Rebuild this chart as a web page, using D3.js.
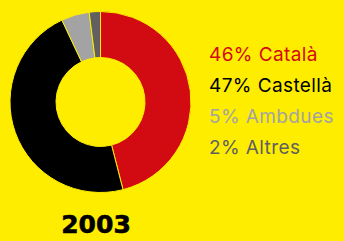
<!DOCTYPE html>
<html>
<head>
<meta charset="utf-8">
<script src="https://cdn.jsdelivr.net/npm/d3@7"></script>
<style>
  body { margin: 0; background: #ffed00; }
  svg { display: block; }
</style>
</head>
<body>
<div id="chart"></div>
<script>
// Data
const labels = ["Català", "Castellà", "Ambdues", "Altres"];
const values = [46, 47, 5, 2];
const colors = ["#d20a11", "#000000", "#a3a3a3", "#606060"];
const year = "2003";

const width = 344, height = 241;
const cx = 100.5, cy = 102;
const outerR = 90.5, innerR = 44.5;

const svg = d3.select("#chart")
    .append("svg")
    .attr("width", width)
    .attr("height", height)
    .style("background", "#ffed00");

// Pie layout, keep the given order
const pie = d3.pie().sort(null).value(d => d);
const arc = d3.arc().innerRadius(innerR).outerRadius(outerR);

svg.append("g")
    .attr("transform", `translate(${cx},${cy})`)
    .selectAll("path")
    .data(pie(values))
    .enter().append("path")
    .attr("d", arc)
    .attr("fill", (d, i) => colors[i])
    .attr("stroke", "#ffed00")
    .attr("stroke-width", 1);

// Legend
const legendY = d3.scalePoint()
    .domain(labels)
    .range([61, 154]);

svg.selectAll(".legend")
    .data(labels)
    .enter().append("text")
    .attr("class", "legend")
    .attr("x", 209)
    .attr("y", d => legendY(d))
    .attr("fill", (d, i) => colors[i])
    .style("font-family", "Inter, sans-serif")
    .style("font-size", "19px")
    .style("letter-spacing", "0.4px")
    .text((d, i) => values[i] + "% " + d);

// Year label
svg.append("text")
    .attr("x", 96)
    .attr("y", 233)
    .attr("text-anchor", "middle")
    .style("font-family", "'DejaVu Sans', sans-serif")
    .style("font-weight", 700)
    .style("font-size", "25px")
    .style("stroke", "#000")
    .style("stroke-width", 0.6)
    .text(year);
</script>
</body>
</html>
